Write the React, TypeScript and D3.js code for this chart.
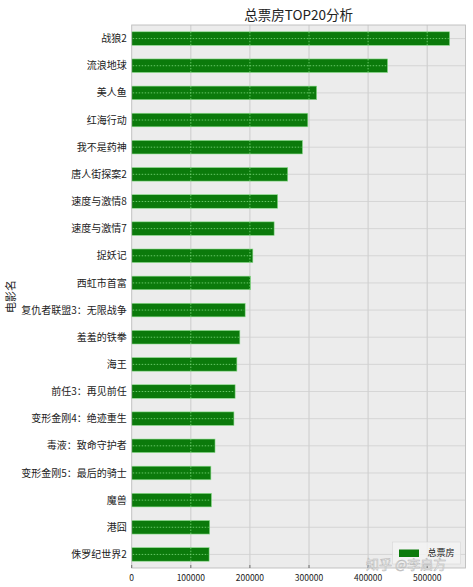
import React from "react";
import * as d3 from "d3";

const movies = [
  "战狼2",
  "流浪地球",
  "美人鱼",
  "红海行动",
  "我不是药神",
  "唐人街探案2",
  "速度与激情8",
  "速度与激情7",
  "捉妖记",
  "西虹市首富",
  "复仇者联盟3：无限战争",
  "羞羞的铁拳",
  "海王",
  "前任3：再见前任",
  "变形金刚4：绝迹重生",
  "毒液：致命守护者",
  "变形金刚5：最后的骑士",
  "魔兽",
  "港囧",
  "侏罗纪世界2",
];

const boxOffice = [
  538000, 433000, 313000, 298000, 289000, 264000, 247000, 241000, 205000,
  201000, 192000, 183000, 178000, 175000, 173000, 141000, 134000, 135000,
  132000, 131000,
];

const xTicks = [0, 100000, 200000, 300000, 400000, 500000];

const W = 473;
const H = 587;
const margin = { top: 25, right: 7.5, bottom: 19, left: 131.7 };
const font = "'Noto Sans CJK SC', 'DejaVu Sans', sans-serif";

export default function App() {
  const iw = W - margin.left - margin.right;
  const ih = H - margin.top - margin.bottom;

  const x = d3.scaleLinear().domain([0, 564800]).range([0, iw]);
  const y = d3
    .scaleBand()
    .domain(movies)
    .range([0, ih])
    .paddingInner(0.5)
    .paddingOuter(0.25);

  const rows = movies.map((m, i) => ({ name: m, value: boxOffice[i] }));
  const mid = (m: string) => (y(m) as number) + y.bandwidth() / 2;

  return (
    <svg
      width={W}
      height={H}
      style={{ position: "absolute", left: 0, top: 0, background: "#fff" }}
      fontFamily={font}
    >
      <text
        x={margin.left + iw / 2}
        y={19.5}
        textAnchor="middle"
        fontSize={13.5}
        fill="#222"
      >
        总票房TOP20分析
      </text>

      <g transform={`translate(${margin.left},${margin.top})`}>
        <rect width={iw} height={ih} fill="#ececec" />

        {/* grid under the bars */}
        {xTicks.slice(1).map((t) => (
          <line
            key={t}
            x1={x(t)}
            x2={x(t)}
            y1={0}
            y2={ih}
            stroke="#c4c4c4"
            strokeWidth={0.8}
          />
        ))}
        {movies.map((m) => (
          <line
            key={m}
            x1={0}
            x2={iw}
            y1={mid(m)}
            y2={mid(m)}
            stroke="#cfcfcf"
            strokeWidth={0.8}
          />
        ))}

        {rows.map((d) => (
          <rect
            key={d.name}
            x={0}
            y={y(d.name)}
            width={x(d.value)}
            height={y.bandwidth()}
            fill="#0b7a0b"
            stroke="#8fdf8f"
            strokeWidth={0.6}
          />
        ))}

        {/* grid showing through on top of the bars */}
        {rows.map((d) => (
          <g key={d.name}>
            <line
              x1={1}
              x2={x(d.value) - 1}
              y1={mid(d.name)}
              y2={mid(d.name)}
              stroke="#7fd97f"
              strokeWidth={0.8}
              strokeDasharray="1.5,1.5"
            />
            {xTicks
              .slice(1)
              .filter((t) => t < d.value)
              .map((t) => (
                <line
                  key={t}
                  x1={x(t)}
                  x2={x(t)}
                  y1={y(d.name)}
                  y2={(y(d.name) as number) + y.bandwidth()}
                  stroke="#7fd97f"
                  strokeWidth={0.8}
                  strokeDasharray="1.5,1.5"
                />
              ))}
          </g>
        ))}

        <rect
          width={iw}
          height={ih}
          fill="none"
          stroke="#bdbdbd"
          strokeWidth={0.9}
        />

        {/* y axis labels */}
        {movies.map((m) => (
          <text
            key={m}
            x={-5}
            y={mid(m)}
            dy="0.36em"
            textAnchor="end"
            fontSize={10}
            fill="#222"
          >
            {m}
          </text>
        ))}

        {/* x axis */}
        {xTicks.map((t) => (
          <g key={t} transform={`translate(${x(t)},${ih})`}>
            <line y1={0} y2={-3} stroke="#555" strokeWidth={0.8} />
            <text y={13} textAnchor="middle" fontSize={8.5} fill="#222">
              {t}
            </text>
          </g>
        ))}

        {/* legend */}
        <g transform={`translate(${iw - 73},${ih - 26})`}>
          <rect
            width={68}
            height={22}
            fill="#f4f4f4"
            fillOpacity={0.8}
            stroke="#d6d6d6"
            strokeWidth={0.6}
          />
          <rect x={6.5} y={7.5} width={20} height={7.5} fill="#0b7a0b" />
          <text x={35} y={14} fontSize={9} fill="#222">
            总票房
          </text>
        </g>
      </g>

      <text
        transform={`translate(15,${margin.top + ih / 2}) rotate(-90)`}
        textAnchor="middle"
        fontSize={11}
        fill="#222"
      >
        电影名
      </text>

      {/* watermark of the source picture */}
      <text
        x={366}
        y={569}
        fontSize={13}
        fill="#ffffff"
        fillOpacity={0.85}
        stroke="#b5b5b5"
        strokeWidth={0.5}
      >
        知乎 @李启方
      </text>
    </svg>
  );
}
